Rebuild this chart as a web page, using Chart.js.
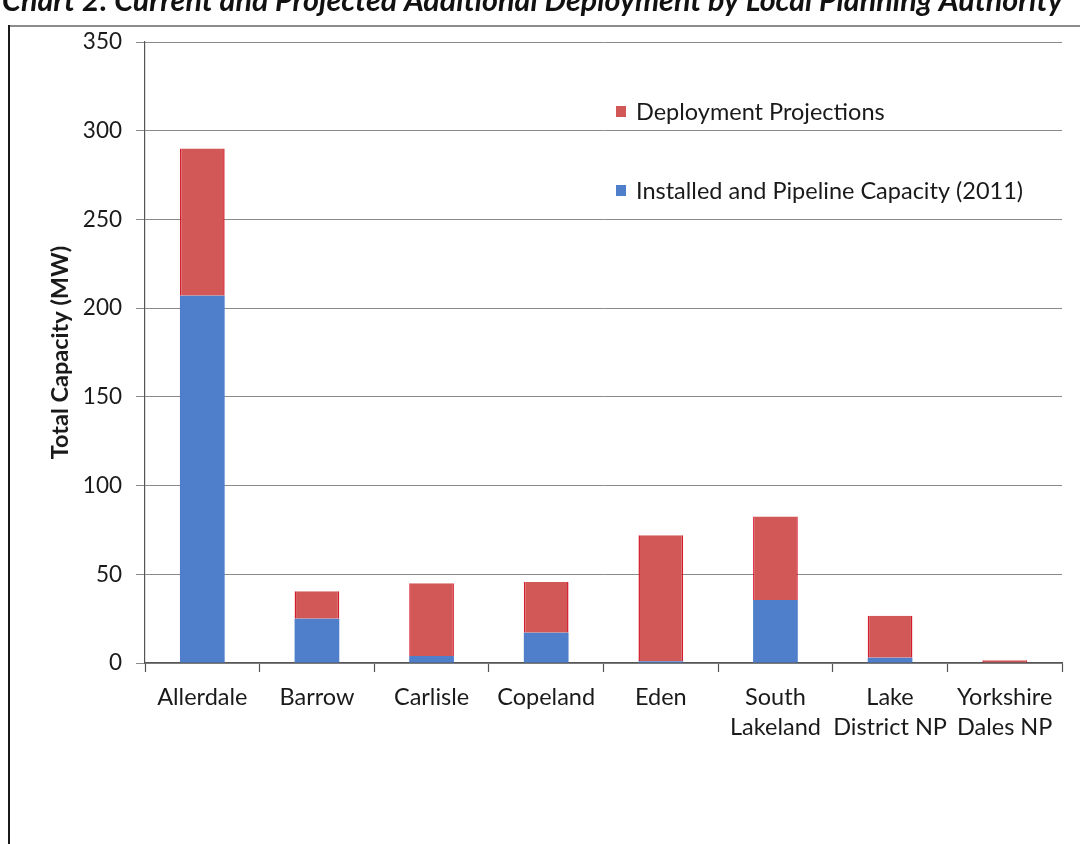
<!DOCTYPE html>
<html>
<head>
<meta charset="utf-8">
<script src="https://cdn.jsdelivr.net/npm/chart.js@4.4.1/dist/chart.umd.min.js"></script>
<style>
  html, body { margin: 0; padding: 0; background: #ffffff; }
  #wrap { width: 1080px; height: 844px; position: relative; }
</style>
</head>
<body>
<div id="wrap"><canvas id="chart" width="1080" height="844"></canvas></div>
<script>
// Local planning authorities (x axis)
const categories = [
  'Allerdale', 'Barrow', 'Carlisle', 'Copeland', 'Eden',
  ['South', 'Lakeland'], ['Lake', 'District NP'], ['Yorkshire', 'Dales NP']
];
// Installed and pipeline capacity in 2011 (MW)
const installed = [207, 25, 4, 17, 1, 35.5, 3, 0.3];
// Additional projected deployment (MW), stacked on top
const projections = [83, 15.5, 41, 28.7, 71, 47, 23.7, 1.2];
// Value axis ticks
const yTicks = [0, 50, 100, 150, 200, 250, 300, 350];

const titleText = 'Chart 2: Current and Projected Additional Deployment by Local Planning Authority';
const FONT = 'Lato, "Open Sans", sans-serif';

const blue = '#4f7fcb';
const red = '#d25858';

// Page frame and the chart title running off the top edge
const framePlugin = {
  id: 'frame',
  beforeDraw(chart) {
    const ctx = chart.ctx;
    ctx.save();
    ctx.fillStyle = '#ffffff';
    ctx.fillRect(0, 0, chart.width, chart.height);
    ctx.fillStyle = '#111';
    ctx.font = 'italic bold 30.5px ' + FONT;
    ctx.textBaseline = 'alphabetic';
    ctx.fillText(titleText, 2, 11, 1064);
    ctx.strokeStyle = '#8c8c8c';
    ctx.lineWidth = 2;
    ctx.beginPath();
    ctx.moveTo(8, 26);
    ctx.lineTo(1080, 26);
    ctx.stroke();
    ctx.strokeStyle = '#1a1a1a';
    ctx.lineWidth = 2;
    ctx.beginPath();
    ctx.moveTo(9, 25);
    ctx.lineTo(9, 844);
    ctx.stroke();
    ctx.restore();
  }
};

// Legend drawn inside the plot, series listed top series first
const legendPlugin = {
  id: 'innerLegend',
  afterDraw(chart) {
    const ctx = chart.ctx;
    const items = chart.data.datasets.slice().reverse();
    const x0 = 616, y0 = 111, gap = 79;
    ctx.save();
    ctx.font = '23.5px ' + FONT;
    ctx.textBaseline = 'middle';
    items.forEach((ds, i) => {
      const y = y0 + i * gap;
      ctx.fillStyle = ds.backgroundColor;
      ctx.fillRect(x0, y - 5, 10, 11);
      ctx.fillStyle = '#1a1a1a';
      ctx.fillText(ds.label, x0 + 20, y + 1);
    });
    ctx.restore();
  }
};

new Chart(document.getElementById('chart'), {
  type: 'bar',
  data: {
    labels: categories,
    datasets: [
      {
        label: 'Installed and Pipeline Capacity (2011)',
        data: installed,
        backgroundColor: blue,
        borderWidth: 0
      },
      {
        label: 'Deployment Projections',
        data: projections,
        backgroundColor: red,
        borderColor: '#d41c2a',
        borderWidth: { left: 1.5, right: 1.5, top: 0, bottom: 0 },
        borderSkipped: false
      }
    ]
  },
  options: {
    responsive: false,
    animation: false,
    devicePixelRatio: 1,
    layout: { padding: { top: 42, right: 18, bottom: 0, left: 0 } },
    plugins: {
      legend: { display: false },
      tooltip: { enabled: false }
    },
    datasets: {
      bar: { categoryPercentage: 1, barPercentage: 0.39 }
    },
    scales: {
      x: {
        stacked: true,
        afterFit(scale) { scale.height = 181; },
        grid: {
          offset: true,
          drawOnChartArea: false,
          color: '#555',
          tickLength: 9,
          tickWidth: 1.2
        },
        border: { color: '#555', width: 1.2 },
        ticks: {
          color: '#1a1a1a',
          font: { family: FONT, size: 23.5, lineHeight: 1.28 },
          padding: 10,
          maxRotation: 0,
          autoSkip: false
        }
      },
      y: {
        stacked: true,
        min: 0,
        max: 350,
        afterFit(scale) { scale.width = 145; },
        afterBuildTicks(scale) { scale.ticks = yTicks.map(v => ({ value: v })); },
        grid: {
          color: '#8a8a8a',
          lineWidth: 1,
          tickLength: 9
        },
        border: { color: '#555', width: 1.2 },
        ticks: {
          color: '#1a1a1a',
          font: { family: FONT, size: 22.5 },
          padding: 14
        },
        title: {
          display: true,
          text: 'Total Capacity (MW)',
          color: '#1a1a1a',
          font: { family: FONT, size: 23.5, weight: 'bold', lineHeight: 1.2 },
          padding: { top: 46, bottom: 0 }
        }
      }
    }
  },
  plugins: [framePlugin, legendPlugin]
});
</script>
</body>
</html>
